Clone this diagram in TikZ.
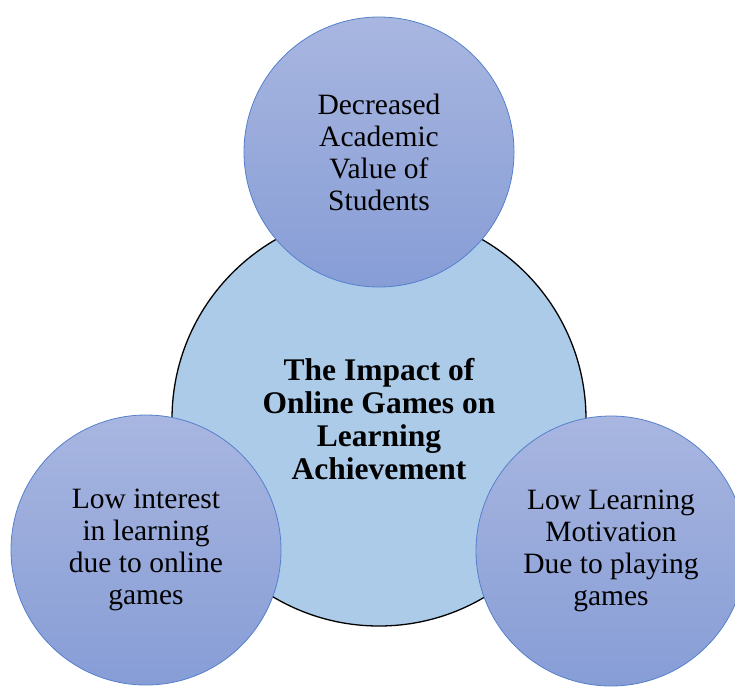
\documentclass[tikz,border=0pt]{standalone}
\usepackage{fontspec}
\setmainfont{Liberation Serif}
\usetikzlibrary{positioning}

\definecolor{coreblue}{HTML}{ACCBE9}
\definecolor{ringtop}{HTML}{A8B6E0}
\definecolor{ringbottom}{HTML}{879DD6}
\definecolor{ringedge}{HTML}{5580CC}

\tikzset{
  core/.style={circle, draw=black, line width=1.3pt, fill=coreblue,
    minimum size=414pt, inner sep=0pt, align=center,
    font=\fontsize{31.5}{33}\selectfont\bfseries},
  effect/.style={circle, draw=ringedge, line width=0.8pt,
    top color=ringtop, bottom color=ringbottom,
    minimum size=270pt, inner sep=0pt, align=center,
    font=\fontsize{29.5}{32}\selectfont}
}

\begin{document}
\begin{tikzpicture}[x=1pt,y=-1pt]
  \useasboundingbox (0,0) rectangle (735,686);
  % Define the coordinates of the circle centres
  \coordinate (c) at (379,419);
  \coordinate (t) at (379,152);
  \coordinate (l) at (146,550);
  \coordinate (r) at (611,551);

  % Draw the main circle
  \node[core] (impact) at (c) {The Impact of\\Online Games on\\Learning\\Achievement};

  % Draw the three effects on top of it
  \foreach \point/\name/\txt in {t/value/{Decreased\\Academic\\Value of\\Students},
      l/interest/{Low interest\\in learning\\due to online\\games},
      r/motivation/{Low Learning\\Motivation\\Due to playing\\games}}
    \node[effect] (\name) at (\point) {\txt};
\end{tikzpicture}
\end{document}
